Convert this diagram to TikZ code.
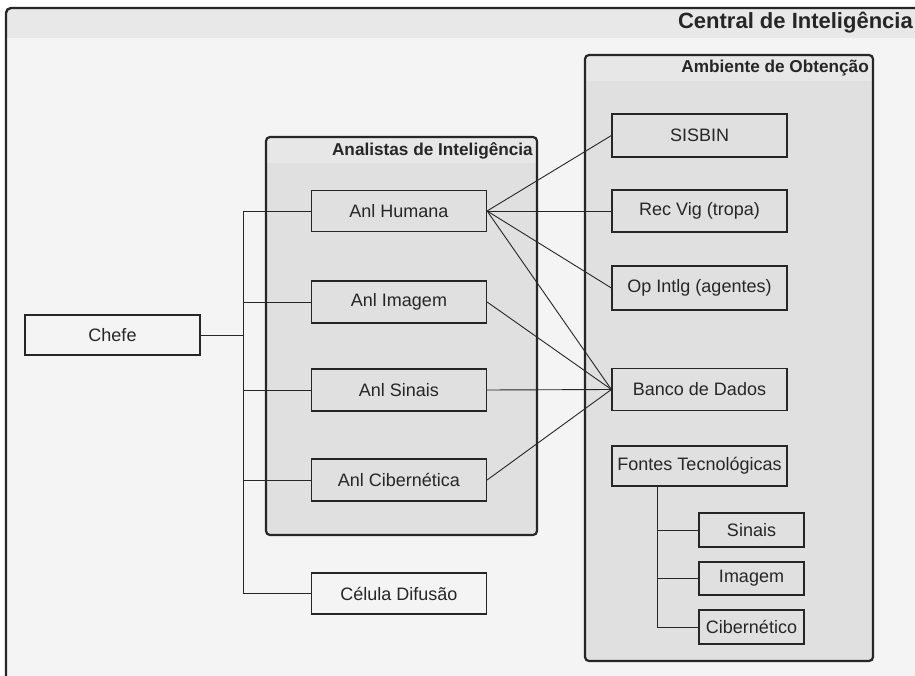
\documentclass[tikz,border=0pt]{standalone}
\usepackage{fontspec}
\setmainfont{Liberation Sans}
\definecolor{pagebg}{HTML}{F4F4F4}
\definecolor{hdrbg}{HTML}{E8E8E8}
\definecolor{grpbg}{HTML}{E0E0E0}
\definecolor{grphdr}{HTML}{E7E7E7}
\definecolor{ink}{HTML}{262626}
\begin{document}
\begin{tikzpicture}[x=1pt,y=-1pt,
  box/.style={draw=ink, line width=1.2pt, minimum width=175pt, minimum height=42pt, inner sep=0pt, font=\fontsize{18}{21}\selectfont, text=ink},
  smallbox/.style={box, minimum width=105pt, minimum height=34pt},
  link/.style={draw=ink, line width=0.9pt},
  grpborder/.style={draw=ink, line width=2.2pt, rounded corners=4pt},
  gtitle/.style={font=\bfseries\fontsize{17.2}{20}\selectfont, anchor=east, inner sep=0pt, text=ink}
]
\useasboundingbox (0,0) rectangle (915,676);
\begin{scope}
\clip (0,0) rectangle (915,676);
\fill[white] (0,0) rectangle (915,676);
% outer frame
\begin{scope}
\clip[rounded corners=5pt] (6,8) rectangle (940,700);
\fill[pagebg] (0,0) rectangle (940,700);
\fill[hdrbg] (0,0) rectangle (940,38);
\end{scope}
\draw[ink, line width=2.4pt, rounded corners=5pt] (6,8) rectangle (940,700);
\end{scope}
\node[font=\bfseries\fontsize{22}{26}\selectfont, anchor=east, inner sep=0pt, text=ink] (title) at (913,23) {Central de Inteligência};

% group: Analistas
\begin{scope}
\clip[rounded corners=4pt] (266,137) rectangle (537,535);
\fill[grpbg] (266,137) rectangle (537,535);
\fill[grphdr] (266,137) rectangle (537,163);
\end{scope}
\draw[grpborder] (266,137) rectangle (537,535);
\node[gtitle] (antitle) at (533,151) {Analistas de Inteligência};

% group: Ambiente
\begin{scope}
\clip[rounded corners=4pt] (585,55) rectangle (873,661);
\fill[grpbg] (585,55) rectangle (873,661);
\fill[grphdr] (585,55) rectangle (873,81);
\end{scope}
\draw[grpborder] (585,55) rectangle (873,661);
\node[gtitle] (amtitle) at (869,68) {Ambiente de Obtenção};

% nodes
\node[box, minimum height=40pt] (chefe) at (112.5,335) {Chefe};
\node[box, minimum height=41pt] (humana) at (399,211) {Anl Humana};
\node[box] (imagem) at (399,302) {Anl Imagem};
\node[box] (sinais) at (399,390) {Anl Sinais};
\node[box] (ciber) at (399,480) {Anl Cibernética};
\node[box, minimum height=41pt] (difusao) at (399,593.5) {Célula Difusão};

\node[box, minimum height=43pt] (sisbin) at (699.5,135.5) {SISBIN};
\node[box] (recvig) at (699.5,211) {Rec Vig (tropa)};
\node[box, minimum height=44pt] (opintlg) at (699.5,288) {Op Intlg (agentes)};
\node[box] (banco) at (699.5,389.5) {Banco de Dados};
\node[box, minimum height=40pt] (fontes) at (699.5,466) {Fontes Tecnológicas};
\node[smallbox] (fsinais) at (751.5,530) {Sinais};
\node[smallbox, minimum height=33pt] (fimagem) at (751.5,578.5) {Imagem};
\node[smallbox] (fciber) at (751.5,627) {Cibernético};

% bus on the left
\coordinate (busT) at (243,211);
\coordinate (busB) at (243,593.5);
\draw[link] (busT) -- (busB);
\draw[link] (chefe.east) -- (chefe.east -| busT);
\draw[link] (humana.west) -- (busT);
\draw[link] (imagem.west) -- (imagem.west -| busT);
\draw[link] (sinais.west) -- (sinais.west -| busT);
\draw[link] (ciber.west) -- (ciber.west -| busT);
\draw[link] (difusao.west) -- (busB);

% links to Ambiente
\draw[link] (humana.east) -- (sisbin.west);
\draw[link] (humana.east) -- (recvig.west);
\draw[link] (humana.east) -- (opintlg.west);
\draw[link] (humana.east) -- (banco.west);
\draw[link] (imagem.east) -- (banco.west);
\draw[link] (sinais.east) -- (banco.west);
\draw[link] (ciber.east) -- (banco.west);

% Fontes tree
\coordinate (ftx) at (657,0);
\draw[link] (fontes.south -| ftx) |- (fciber.west);
\draw[link] (fsinais.west) -- (fsinais.west -| ftx);
\draw[link] (fimagem.west) -- (fimagem.west -| ftx);
\end{tikzpicture}
\end{document}
